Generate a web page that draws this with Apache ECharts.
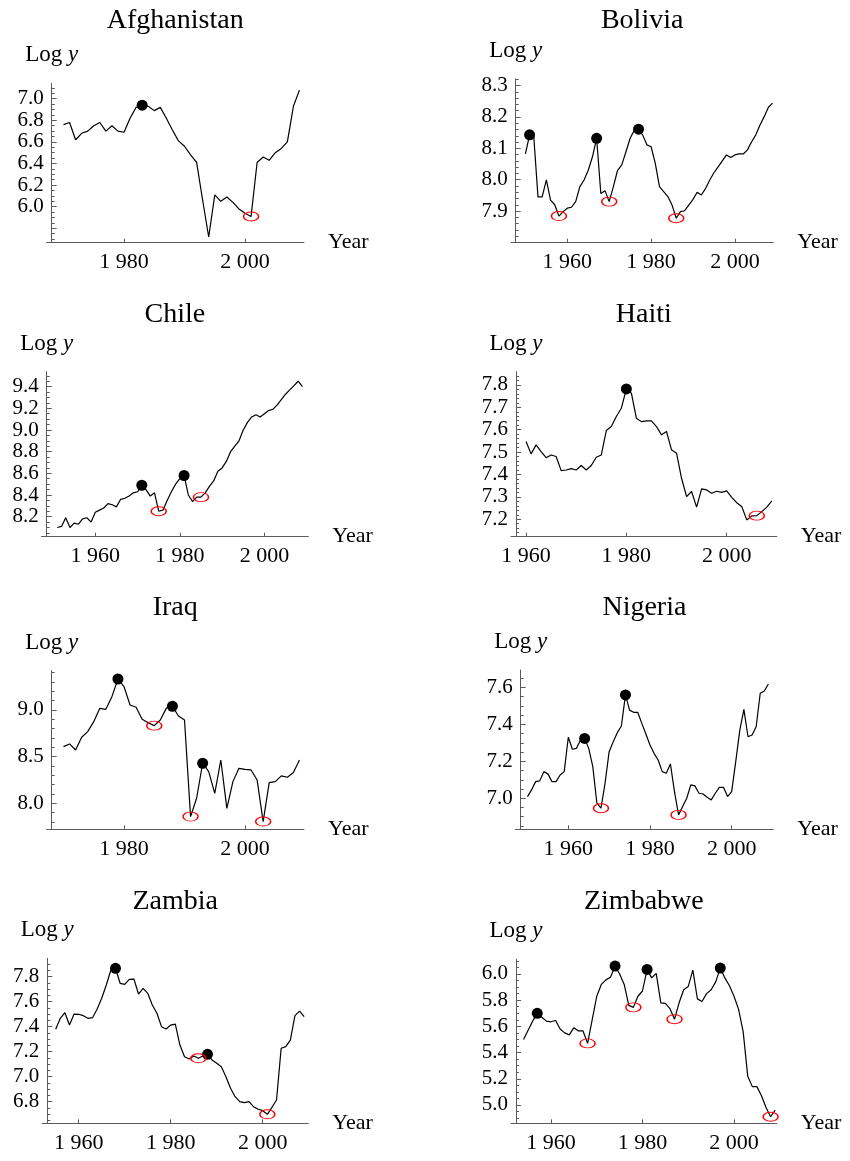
<!DOCTYPE html>
<html>
<head>
<meta charset="utf-8">
<title>Log y by country</title>
<script src="https://cdn.jsdelivr.net/npm/echarts@6/dist/echarts.min.js"></script>
<style>
  html, body { margin: 0; padding: 0; background: #fff; }
  #chart { width: 850px; height: 1161px; }
</style>
</head>
<body>
<div id="chart"></div>
<script>
// ---- data (log income per year) ----
const afghanistanStart = 1970
const afghanistanLogY = [6.76, 6.78, 6.62, 6.68, 6.70, 6.75, 6.78, 6.70, 6.75, 6.70,
  6.69, 6.82, 6.92, 6.94, 6.93, 6.89, 6.92, 6.82, 6.71, 6.61,
  6.56, 6.48, 6.41, 6.06, 5.72, 6.11, 6.05, 6.09, 6.04, 5.98,
  5.94, 5.91, 6.41, 6.46, 6.43, 6.50, 6.54, 6.60, 6.93, 7.08]
const afghanistanPeaks = [1983]
const afghanistanTroughs = [2001]

const boliviaStart = 1950
const boliviaLogY = [8.082, 8.143, 8.137, 7.945, 7.945, 7.999, 7.935, 7.92, 7.884, 7.898,
  7.909, 7.912, 7.93, 7.978, 7.999, 8.03, 8.073, 8.132, 7.956, 7.965,
  7.93, 7.978, 8.03, 8.047, 8.089, 8.132, 8.158, 8.161, 8.142, 8.111,
  8.105, 8.052, 7.978, 7.962, 7.946, 7.919, 7.877, 7.898, 7.901, 7.919,
  7.937, 7.96, 7.951, 7.972, 7.999, 8.022, 8.041, 8.06, 8.079, 8.071,
  8.079, 8.082, 8.082, 8.095, 8.121, 8.143, 8.174, 8.201, 8.231, 8.244]
const boliviaPeaks = [1951, 1967, 1977]
const boliviaTroughs = [1958, 1970, 1986]

const chileStart = 1951
const chileLogY = [8.10, 8.11, 8.19, 8.10, 8.14, 8.13, 8.18, 8.19, 8.15,
  8.24, 8.26, 8.28, 8.32, 8.31, 8.29, 8.36, 8.37, 8.39, 8.42,
  8.43, 8.49, 8.45, 8.39, 8.42, 8.25, 8.26, 8.35, 8.43, 8.50,
  8.55, 8.58, 8.40, 8.34, 8.38, 8.38, 8.42, 8.48, 8.53, 8.62,
  8.65, 8.71, 8.80, 8.85, 8.90, 9.00, 9.07, 9.12, 9.14, 9.12,
  9.15, 9.18, 9.19, 9.23, 9.28, 9.33, 9.37, 9.41, 9.45, 9.40]
const chilePeaks = [1971, 1981]
const chileTroughs = [1975, 1985]

const haitiStart = 1960
const haitiLogY = [7.547, 7.492, 7.532, 7.502, 7.475, 7.487, 7.48, 7.417, 7.42, 7.426,
  7.42, 7.44, 7.42, 7.44, 7.477, 7.487, 7.596, 7.614, 7.659, 7.696,
  7.782, 7.763, 7.651, 7.636, 7.639, 7.639, 7.614, 7.577, 7.592, 7.51,
  7.495, 7.383, 7.301, 7.324, 7.254, 7.336, 7.331, 7.316, 7.325, 7.32,
  7.327, 7.298, 7.274, 7.257, 7.197, 7.215, 7.216, 7.234, 7.254, 7.282]
const haitiPeaks = [1980]
const haitiTroughs = [2006]

const iraqStart = 1970
const iraqLogY = [8.607, 8.636, 8.571, 8.707, 8.768, 8.875, 9.018, 9.007, 9.143, 9.332,
  9.25, 9.054, 9.029, 8.9, 8.864, 8.832, 8.893, 9.02, 9.04, 8.936,
  8.893, 7.857, 8.054, 8.429, 8.339, 8.107, 8.464, 7.946, 8.232, 8.375,
  8.364, 8.357, 8.25, 7.804, 8.221, 8.232, 8.293, 8.279, 8.329, 8.464]
const iraqPeaks = [1979, 1988, 1993]
const iraqTroughs = [1985, 1991, 2003]

const nigeriaStart = 1950
const nigeriaLogY = [7.009, 7.045, 7.09, 7.094, 7.144, 7.132, 7.09, 7.09, 7.126, 7.144,
  7.33, 7.265, 7.27, 7.315, 7.324, 7.27, 7.171, 6.973, 6.946, 7.081,
  7.252, 7.306, 7.355, 7.391, 7.559, 7.477, 7.465, 7.465, 7.405, 7.348,
  7.288, 7.243, 7.207, 7.144, 7.135, 7.186, 7.036, 6.91, 6.955, 7.0,
  7.072, 7.067, 7.027, 7.023, 7.005, 6.991, 7.027, 7.059, 7.059, 7.009,
  7.036, 7.198, 7.369, 7.481, 7.333, 7.342, 7.387, 7.568, 7.58, 7.618]
const nigeriaPeaks = [1964, 1974]
const nigeriaTroughs = [1968, 1987]

const zambiaStart = 1955
const zambiaLogY = [7.379, 7.467, 7.512, 7.413, 7.501, 7.499, 7.488, 7.467, 7.472, 7.539,
  7.627, 7.733, 7.853, 7.867, 7.747, 7.739, 7.779, 7.781, 7.661, 7.707,
  7.667, 7.573, 7.507, 7.4, 7.381, 7.413, 7.421, 7.253, 7.16, 7.141,
  7.165, 7.147, 7.165, 7.179, 7.133, 7.107, 7.08, 7.0, 6.907, 6.84,
  6.8, 6.792, 6.8, 6.76, 6.739, 6.728, 6.699, 6.755, 6.813, 7.227,
  7.24, 7.293, 7.488, 7.525, 7.48]
const zambiaPeaks = [1968, 1988]
const zambiaTroughs = [1986, 2001]

const zimbabweStart = 1954
const zimbabweLogY = [5.50, 5.57, 5.64, 5.70, 5.67, 5.64, 5.635, 5.645, 5.58, 5.55,
  5.535, 5.59, 5.565, 5.565, 5.47, 5.65, 5.83, 5.92, 5.955, 5.975,
  6.06, 6.00, 5.92, 5.76, 5.745, 5.83, 5.87, 6.035, 5.97, 6.005,
  5.78, 5.775, 5.735, 5.655, 5.78, 5.88, 5.905, 6.03, 5.81, 5.79,
  5.85, 5.88, 5.94, 6.045, 5.97, 5.91, 5.83, 5.73, 5.56, 5.22,
  5.14, 5.14, 5.07, 4.98, 4.91, 4.96]
const zimbabwePeaks = [1957, 1974, 1981, 1997]
const zimbabweTroughs = [1968, 1978, 1987, 2008]

// ---- tick labels ----
const xTicksLate = [1980, 2000]
const xTicksEarly = [1960, 1980, 2000]
const afghanistanYTicks = [6.0, 6.2, 6.4, 6.6, 6.8, 7.0]
const afghanistanYBareTicks = [5.8]
const boliviaYTicks = [7.9, 8.0, 8.1, 8.2, 8.3]
const chileYTicks = [8.2, 8.4, 8.6, 8.8, 9.0, 9.2, 9.4]
const haitiYTicks = [7.2, 7.3, 7.4, 7.5, 7.6, 7.7, 7.8]
const iraqYTicks = [8.0, 8.5, 9.0]
const nigeriaYTicks = [7.0, 7.2, 7.4, 7.6]
const zambiaYTicks = [6.8, 7.0, 7.2, 7.4, 7.6, 7.8]
const zimbabweYTicks = [5.0, 5.2, 5.4, 5.6, 5.8, 6.0]

// ---- layout (pixels / axis extents), kept apart from the data ----
const FONT = '"Liberation Serif", "Times New Roman", serif'
const AXIS = '#5a5a5a'
const gridBoxes = [
  [46.5, 83.3, 257.5, 159.4], [511, 79, 262.3, 163.7],
  [41.5, 371.7, 266.8, 165], [511, 371.7, 265.7, 165],
  [46.5, 670.7, 257.5, 158.6], [515.5, 670, 257.8, 159.3],
  [42.2, 958.3, 266.1, 165], [511, 959.3, 265.7, 164]
]
const axisShift = [5.2, 4.7, 5.2, 5, 5.2, 5.2, 5.1, 5]
const xRanges = [[1967.19, 2009.75], [1946.56, 2009.17], [1947.27, 2010.39], [1957.0, 2009.97],
  [1967.19, 2009.75], [1947.07, 2010.2], [1952.07, 2009.9], [1951.26, 2009.33]]
const yRanges = [[5.667, 7.143], [7.799, 8.321], [8.015, 9.538], [7.122, 7.859],
  [7.721, 9.421], [6.832, 7.694], [6.627, 7.947], [4.86, 6.112]]
const minorSteps = [0.05, 0.02, 0.05, 0.02, 0.1, 0.05, 0.05, 0.05]
const titleRowY = [21, 314.5, 608, 901.5]

const panels = [
  { name: 'Afghanistan', start: afghanistanStart, values: afghanistanLogY, peaks: afghanistanPeaks, troughs: afghanistanTroughs, yTicks: afghanistanYTicks, yBare: afghanistanYBareTicks, xTicks: xTicksLate },
  { name: 'Bolivia', start: boliviaStart, values: boliviaLogY, peaks: boliviaPeaks, troughs: boliviaTroughs, yTicks: boliviaYTicks, yBare: [], xTicks: xTicksEarly },
  { name: 'Chile', start: chileStart, values: chileLogY, peaks: chilePeaks, troughs: chileTroughs, yTicks: chileYTicks, yBare: [], xTicks: xTicksEarly },
  { name: 'Haiti', start: haitiStart, values: haitiLogY, peaks: haitiPeaks, troughs: haitiTroughs, yTicks: haitiYTicks, yBare: [], xTicks: xTicksEarly },
  { name: 'Iraq', start: iraqStart, values: iraqLogY, peaks: iraqPeaks, troughs: iraqTroughs, yTicks: iraqYTicks, yBare: [], xTicks: xTicksLate },
  { name: 'Nigeria', start: nigeriaStart, values: nigeriaLogY, peaks: nigeriaPeaks, troughs: nigeriaTroughs, yTicks: nigeriaYTicks, yBare: [], xTicks: xTicksEarly },
  { name: 'Zambia', start: zambiaStart, values: zambiaLogY, peaks: zambiaPeaks, troughs: zambiaTroughs, yTicks: zambiaYTicks, yBare: [], xTicks: xTicksEarly },
  { name: 'Zimbabwe', start: zimbabweStart, values: zimbabweLogY, peaks: zimbabwePeaks, troughs: zimbabweTroughs, yTicks: zimbabweYTicks, yBare: [], xTicks: xTicksEarly }
]

function minorTicks(range, step, majors) {
  const out = []
  const first = Math.ceil(range[0] / step - 1e-9)
  for (let k = first; k * step <= range[1] + 1e-9; k++) {
    const v = +(k * step).toFixed(4)
    if (!majors.some(m => Math.abs(m - v) < 1e-6)) out.push(v)
  }
  return out
}

const yearLabel = v => String(v).replace(/^(\d)(\d{3})$/, '$1 $2')

const grid = [], xAxis = [], yAxis = [], series = [], graphic = []

panels.forEach((p, i) => {
  const [left, top, width, height] = gridBoxes[i]
  const points = p.values.map((v, k) => [p.start + k, v])
  const at = yr => [yr, p.values[yr - p.start]]
  const majors = p.yTicks.concat(p.yBare)

  grid.push({ left, top, width, height })

  xAxis.push({
    type: 'value', gridIndex: i, min: xRanges[i][0], max: xRanges[i][1],
    axisLine: { show: true, onZero: false, lineStyle: { color: AXIS, width: 1 } },
    axisTick: { show: true, inside: true, length: 4, customValues: p.xTicks, lineStyle: { color: AXIS } },
    axisLabel: { customValues: p.xTicks, formatter: yearLabel, interval: 0, hideOverlap: false, margin: 9, fontFamily: FONT, fontSize: 22, color: '#000' },
    splitLine: { show: false },
    name: 'Year', nameLocation: 'end', nameGap: 24,
    nameTextStyle: { fontFamily: FONT, fontSize: 22, color: '#000', align: 'left', verticalAlign: 'middle' }
  })

  yAxis.push({
    type: 'value', gridIndex: i, position: 'left', offset: -axisShift[i],
    min: yRanges[i][0], max: yRanges[i][1],
    axisLine: { show: true, onZero: false, lineStyle: { color: AXIS, width: 1 } },
    axisTick: { show: true, inside: true, length: 5, customValues: majors, lineStyle: { color: AXIS } },
    axisLabel: {
      customValues: p.yTicks, formatter: v => v.toFixed(1), interval: 0, hideOverlap: false,
      showMinLabel: true, showMaxLabel: true,
      margin: 8, fontFamily: FONT, fontSize: 21, lineHeight: 16, color: '#000'
    },
    splitLine: { show: false },
    name: '{n|Log }{i|y}', nameLocation: 'end', nameGap: 28,
    nameTextStyle: {
      fontFamily: FONT, fontSize: 23, color: '#000', align: 'center', verticalAlign: 'middle',
      rich: {
        n: { fontFamily: FONT, fontSize: 23, color: '#000' },
        i: { fontFamily: FONT, fontSize: 23, color: '#000', fontStyle: 'italic' }
      }
    }
  })
  // minor ticks
  yAxis.push({
    type: 'value', gridIndex: i, position: 'left', offset: -axisShift[i],
    min: yRanges[i][0], max: yRanges[i][1],
    axisLine: { show: false },
    axisTick: { show: true, inside: true, length: 3, customValues: minorTicks(yRanges[i], minorSteps[i], majors), lineStyle: { color: AXIS } },
    axisLabel: { show: false },
    splitLine: { show: false }
  })

  series.push({
    type: 'line', xAxisIndex: i, yAxisIndex: 2 * i, data: points,
    showSymbol: false, symbol: 'none', lineStyle: { color: '#000', width: 1.2 }, z: 2
  })
  series.push({
    type: 'scatter', xAxisIndex: i, yAxisIndex: 2 * i, data: p.peaks.map(at),
    symbol: 'circle', symbolSize: 11, itemStyle: { color: '#000', opacity: 1 }, z: 3
  })
  series.push({
    type: 'scatter', xAxisIndex: i, yAxisIndex: 2 * i, data: p.troughs.map(at),
    symbol: 'circle', symbolSize: [15, 9],
    itemStyle: { color: 'rgba(0,0,0,0)', borderColor: '#ff0000', borderWidth: 1.2, opacity: 1 }, z: 3
  })

  graphic.push({
    type: 'text', x: left + width / 2, y: titleRowY[Math.floor(i / 2)],
    style: { text: p.name, font: '28px ' + FONT, fill: '#000', align: 'center', verticalAlign: 'middle', textAlign: 'center', textVerticalAlign: 'middle' }
  })
})

const chart = echarts.init(document.getElementById('chart'))
chart.setOption({
  animation: false,
  backgroundColor: '#fff',
  grid, xAxis, yAxis, series, graphic
})
</script>
</body>
</html>
